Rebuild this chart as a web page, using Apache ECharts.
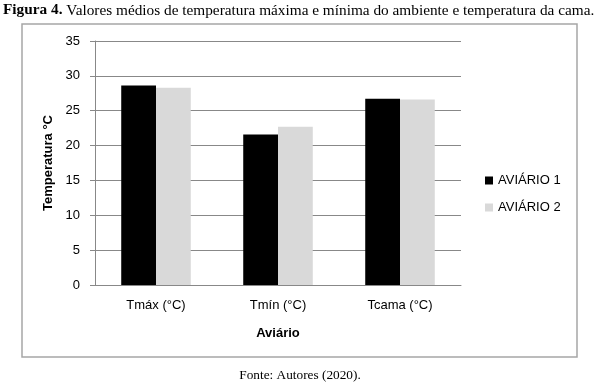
<!DOCTYPE html>
<html><head><meta charset="utf-8">
<script src="https://cdn.jsdelivr.net/npm/echarts@6/dist/echarts.min.js"></script>
<style>html,body{margin:0;padding:0;background:#fff}#c{width:600px;height:384px}</style>
</head><body><div id="c"></div>
<script>
const categories = ['Tmáx (°C)', 'Tmín (°C)', 'Tcama (°C)'];
const aviario1 = [28.6, 21.6, 26.7];
const aviario2 = [28.3, 22.7, 26.6];
const seriesNames = ['AVIÁRIO 1', 'AVIÁRIO 2'];
const yTicks = [0, 5, 10, 15, 20, 25, 30, 35];

const chart = echarts.init(document.getElementById('c'), null, {renderer: 'canvas'});
const sans = 'Liberation Sans, Arial, sans-serif';
const serif = 'Liberation Serif, Times New Roman, serif';
chart.setOption({
  animation: false,
  title: [{
    text: '{b|Figura 4.} Valores médios de temperatura máxima e mínima do ambiente e temperatura da cama.',
    left: 3, top: 3, padding: 0,
    textStyle: {fontFamily: serif, fontSize: 15.3, fontWeight: 'normal', color: '#000',
      rich: {b: {fontFamily: serif, fontSize: 15.3, fontWeight: 'bold', color: '#000'}}}
  }, {
    text: 'Fonte: Autores (2020).',
    left: 'center', top: 369, padding: 0,
    textStyle: {fontFamily: serif, fontSize: 13.3, fontWeight: 'normal', color: '#000'}
  }],
  graphic: [{
    type: 'rect', shape: {x: 22, y: 24, width: 555, height: 333},
    style: {fill: 'none', stroke: '#a6a6a6', lineWidth: 1.5}, z: -1
  }],
  legend: {
    orient: 'vertical', left: 480, top: 169,
    itemWidth: 8, itemHeight: 8, itemGap: 14,
    icon: 'rect',
    textStyle: {fontFamily: sans, fontSize: 13, color: '#000'},
    data: seriesNames
  },
  grid: {left: 95, right: 139, top: 41, bottom: 99},
  xAxis: {
    type: 'category', data: categories,
    name: 'Aviário', nameLocation: 'middle', nameGap: 42,
    nameTextStyle: {fontFamily: sans, fontSize: 13, fontWeight: 'bold', color: '#000'},
    axisLine: {lineStyle: {color: '#888', width: 1}},
    axisTick: {show: false},
    axisLabel: {fontFamily: sans, fontSize: 13, color: '#000', margin: 14}
  },
  yAxis: {
    type: 'value', min: 0, max: 35, interval: 5,
    name: 'Temperatura °C', nameLocation: 'middle', nameGap: 40,
    nameTextStyle: {fontFamily: sans, fontSize: 13, fontWeight: 'bold', color: '#000'},
    axisLine: {show: true, lineStyle: {color: '#888', width: 1}},
    axisTick: {show: true, length: 5, lineStyle: {color: '#888'}},
    splitLine: {lineStyle: {color: '#888', width: 1}},
    axisLabel: {fontFamily: sans, fontSize: 13, color: '#000', margin: 15,
      formatter: v => yTicks.includes(v) ? String(v) : ''}
  },
  series: [{
    name: seriesNames[0], type: 'bar', data: aviario1,
    itemStyle: {color: '#000'}, barGap: '0%', barCategoryGap: '43%'
  }, {
    name: seriesNames[1], type: 'bar', data: aviario2,
    itemStyle: {color: '#d9d9d9'}, barGap: '0%', barCategoryGap: '43%'
  }]
});
</script></body></html>
